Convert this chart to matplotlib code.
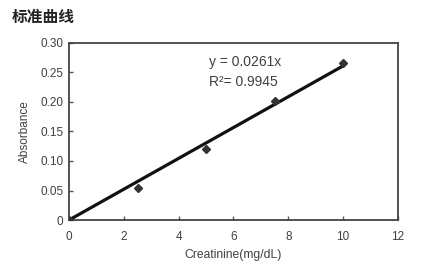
import matplotlib
matplotlib.use("Agg")
import matplotlib.pyplot as plt
import numpy as np

plt.rcParams['font.family'] = ['Liberation Sans', 'Noto Sans CJK SC', 'DejaVu Sans']

title = "标准曲线"
x_vals = [0, 2.5, 5, 7.5, 10]
y_vals = [0.0, 0.055, 0.121, 0.201, 0.266]
slope = 0.0261
eq_text = "y = 0.0261x"
r2_text = "R\u00b2= 0.9945"
x_ticks = [0, 2, 4, 6, 8, 10, 12]
y_ticks = [0, 0.05, 0.10, 0.15, 0.20, 0.25, 0.30]
y_ticklabels = ["0", "0.05", "0.10", "0.15", "0.20", "0.25", "0.30"]

fig = plt.figure(figsize=(4.26, 2.68), dpi=100)
ax = fig.add_axes([0.162, 0.179, 0.772, 0.661])

tc = '#404040'
xl = np.array([0, 10])
ax.plot(xl, slope * xl, color='#111111', lw=2.3, zorder=2)
ax.plot(x_vals, y_vals, linestyle='none', marker='D', ms=4, color='#333333', zorder=3)

ax.set_xlim(0, 12)
ax.set_ylim(0, 0.30)
ax.set_xticks(x_ticks)
ax.set_xticklabels([str(t) for t in x_ticks])
ax.set_yticks(y_ticks)
ax.set_yticklabels(y_ticklabels)
ax.tick_params(direction='in', length=3, width=1, colors='#555555', labelcolor=tc,
               labelsize=8.5)
ax.tick_params(axis='x', pad=8)
ax.tick_params(axis='y', pad=4)
for s in ax.spines.values():
    s.set_color('#444444')
    s.set_linewidth(1.3)

ax.set_xlabel("Creatinine(mg/dL)", fontsize=8.7, color=tc, labelpad=4)
ax.set_ylabel("Absorbance", fontsize=8.5, color=tc, labelpad=7)

ax.text(5.1, 0.268, eq_text, fontsize=10, color=tc, va='center', ha='left')
ax.text(5.1, 0.234, r2_text, fontsize=10, color=tc, va='center', ha='left')

fig.text(12/426, 1 - 17/268, title, fontsize=11.3, color='#222222', va='center', ha='left',
         weight='bold', family=['Noto Sans CJK SC', 'DejaVu Sans'])

fig.savefig("out.png", dpi=100)
